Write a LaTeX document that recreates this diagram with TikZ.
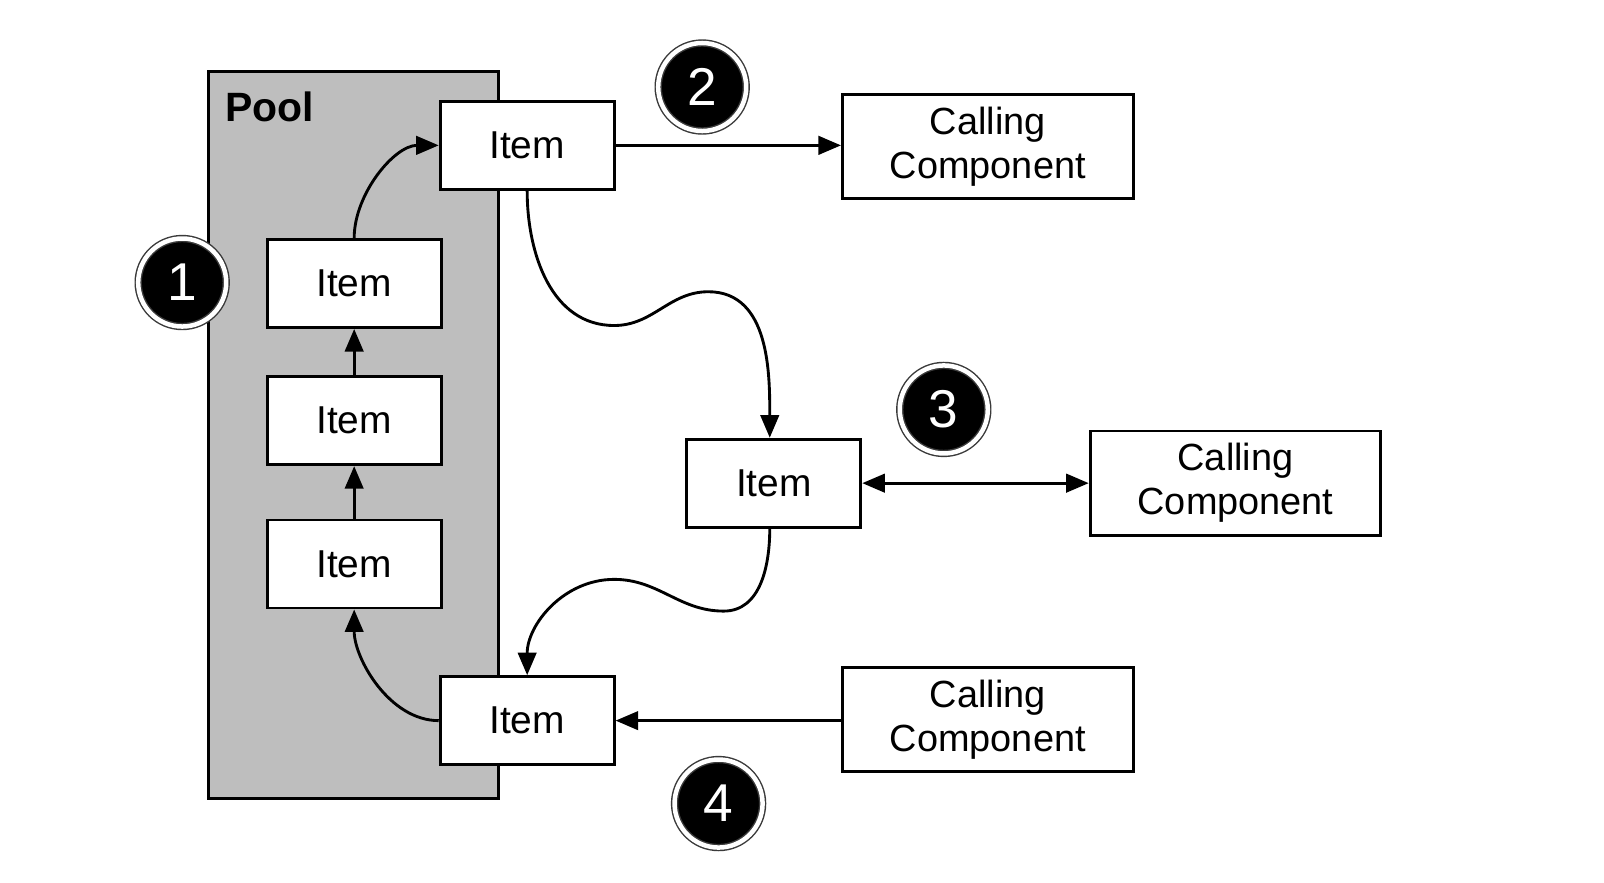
\documentclass[tikz,border=0pt]{standalone}
\usepackage{fontspec}
\setmainfont{Liberation Sans}
\usetikzlibrary{arrows.meta}
\definecolor{poolgray}{HTML}{BEBEBE}
\definecolor{ringgray}{HTML}{3A3A3A}
\tikzset{
  box/.style={draw=black, fill=white, line width=1.4pt, inner sep=0pt,
    font=\fontsize{19}{22}\selectfont},
  itembox/.style={box, minimum width=85pt, minimum height=43pt},
  ccbox/.style={box, minimum width=142pt, minimum height=51pt, align=center,
    font=\fontsize{18.5}{21.5}\selectfont},
  numc/.style={circle, fill=black, text=white, minimum size=43pt, inner sep=0pt,
    draw=ringgray, line width=0.7pt, double=white, double distance=2.2pt,
    font=\fontsize{26}{26}\selectfont},
  conn/.style={line width=1.4pt, -{Triangle[length=11pt,width=9pt]}},
  conn2/.style={line width=1.4pt, {Triangle[length=11pt,width=9pt]}-{Triangle[length=11pt,width=9pt]}},
}
\begin{document}
\begin{tikzpicture}[x=0.5pt,y=-0.5pt]
\useasboundingbox (0,0) rectangle (1567,862);
% pool
\draw[fill=poolgray, line width=1.4pt] (204,70) rectangle (487,780);
\node[anchor=base west, inner sep=0pt, font=\bfseries\fontsize{20}{24}\selectfont] (pool) at (220,119) {Pool};
% items
\node[itembox] (itop) at (515,142) {Item};
\node[itembox] (i1) at (346,277) {Item};
\node[itembox] (i2) at (346,411) {Item};
\node[itembox] (i3) at (346,551) {Item};
\node[itembox] (ibot) at (515,704) {Item};
\node[itembox] (imid) at (756,472) {Item};
% calling components
\node[ccbox] (cc1) at (965,143) {Calling\\Component};
\node[ccbox] (cc2) at (1207,472) {Calling\\Component};
\node[ccbox] (cc3) at (965,703) {Calling\\Component};
% numbers
\node[numc] (n1) at (178,276) {1};
\node[numc] (n2) at (686,85) {2};
\node[numc] (n3) at (922,400) {3};
\node[numc] (n4) at (702,785) {4};
% connectors
\draw[conn] (i1.north) to[out=90,in=180,looseness=0.9] (itop.west);
\draw[conn] (i2.north) -- (i1.south);
\draw[conn] (i3.north) -- (i2.south);
\draw[conn] (ibot.west) to[out=180,in=-90,looseness=0.9] (i3.south);
\draw[conn] (itop.east) -- (cc1.west |- itop.east);
\draw[conn2] (imid.east) -- (cc2.west);
\draw[conn] (cc3.west |- ibot.east) -- (ibot.east);
\coordinate (w1) at (600,318);
\coordinate (w2) at (692,285);
\draw[conn] (itop.south) to[out=-90,in=180] (w1) to[out=0,in=180] (w2) to[out=0,in=90] ([xshift=-2pt]imid.north);
\coordinate (w3) at (707,597);
\coordinate (w4) at (600,566);
\draw[conn] ([xshift=-2pt]imid.south) to[out=-90,in=0] (w3) to[out=180,in=0] (w4) to[out=180,in=90] (ibot.north);
\end{tikzpicture}
\end{document}
